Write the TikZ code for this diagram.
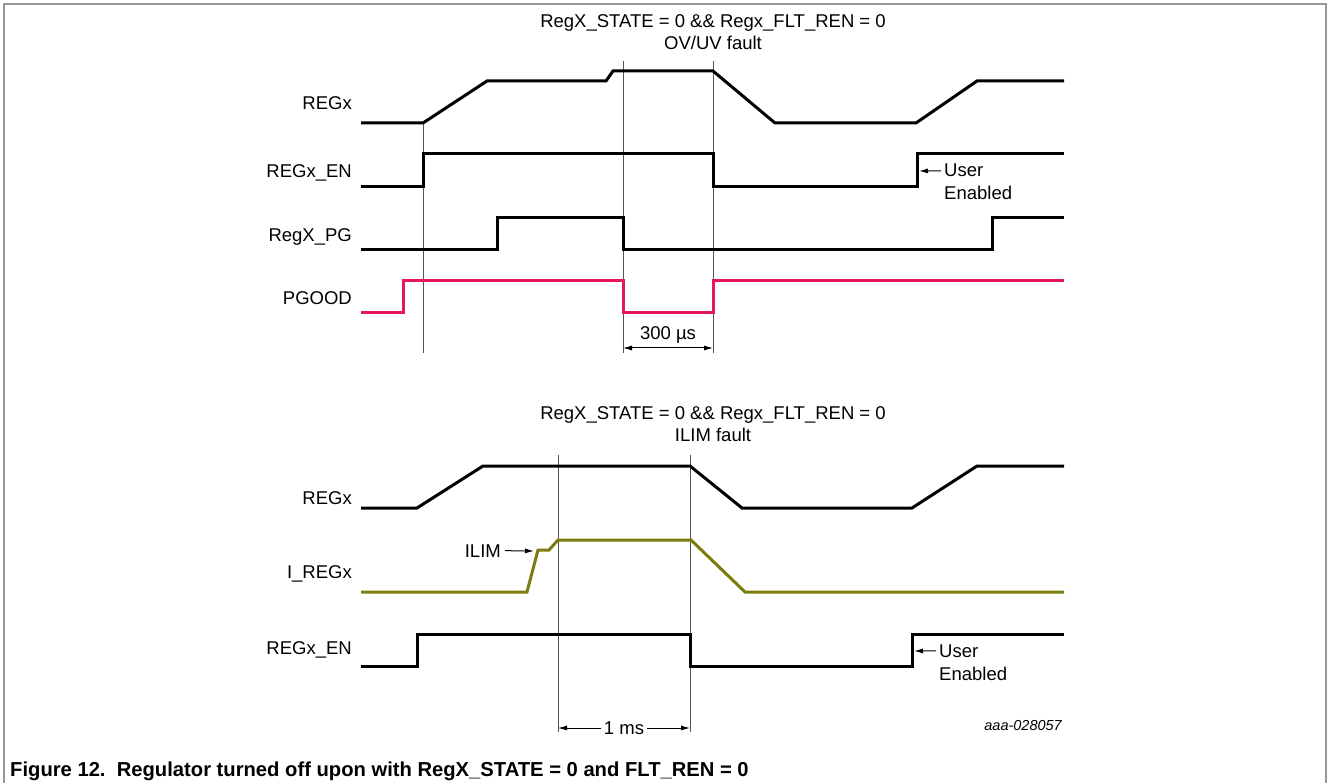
\documentclass[tikz,border=0pt]{standalone}
\usepackage{xcolor}
\usepackage{fontspec}
\setmainfont{Liberation Sans}
\usepackage{tikz}
\usetikzlibrary{arrows.meta,positioning,calc}
\definecolor{pgoodred}{RGB}{232, 22, 92}
\definecolor{ilimolive}{RGB}{124, 124, 14}
\definecolor{framegray}{RGB}{150, 150, 150}
\definecolor{guidegray}{RGB}{85, 85, 85}
\tikzset{
  sig/.style={line width=3pt,line join=miter},
  lbl/.style={anchor=base east,inner sep=0pt,font=\fontsize{18.5}{22}\selectfont},
  note/.style={anchor=base,inner sep=0pt,font=\fontsize{18.5}{22}\selectfont},
  usr/.style={anchor=base west,inner sep=0pt,font=\fontsize{18.5}{22}\selectfont},
  guide/.style={line width=1pt,draw=guidegray},
  arr/.style={-{Latex[length=9pt,width=5pt]},line width=1pt},
  dimarr/.style={{Latex[length=9pt,width=5pt]}-{Latex[length=9pt,width=5pt]},line width=1pt},
}
\begin{document}
\begin{tikzpicture}[x=1pt,y=-1pt]
        \useasboundingbox (0,0) rectangle (1328,783);
        \draw[framegray,line width=1.5pt] (4,783) -- (4,4) -- (1326,4) -- (1326,783);
        % OV/UV fault
        \node[note] (condA) at (713,28) {RegX\_STATE = 0 \&\& Regx\_FLT\_REN = 0};
        \node[note] (faultA) at (713,50) {OV/UV fault};
        \node[lbl] (regA) at (352,110) {REGx};
        \node[lbl] (enA) at (352,178) {REGx\_EN};
        \node[lbl] (pgA) at (352,242) {RegX\_PG};
        \node[lbl] (pgoodA) at (352,305) {PGOOD};
        \draw[guide] (423,123) -- (423,353);
        \draw[guide] (623,61) -- (623,353);
        \draw[guide] (713,61) -- (713,353);
        \draw[sig] (361,123) -- (423,123) -- (487,81) -- (606,81) -- (613,71)
              -- (713,71) -- (775,123) -- (916,123) -- (977,81) -- (1064,81);
        \draw[sig] (361,187) -- (423,187) -- (423,154) -- (713,154) -- (713,187)
              -- (917,187) -- (917,154) -- (1064,154);
        \draw[sig] (361,250) -- (497,250) -- (497,218) -- (623,218) -- (623,250)
              -- (992,250) -- (992,218) -- (1064,218);
        \draw[sig,pgoodred] (361,313) -- (403,313) -- (403,281) -- (623,281)
              -- (623,313) -- (713,313) -- (713,281) -- (1064,281);
        \node[usr] (userA) at (944,177) {User};
        \node[usr] (enabA) at (944,200) {Enabled};
        \coordinate (onA) at (919,171);
        \draw[arr,shorten <=3pt] (userA.west) -- (onA);
        \coordinate (dlyL) at (623,348);
        \coordinate (dlyR) at (713,348);
        \draw[dimarr] (dlyL) -- (dlyR);
        \node[note] (dly) at (668,340) {300 µs};
        % ILIM fault
        \node[note] (condB) at (713,420) {RegX\_STATE = 0 \&\& Regx\_FLT\_REN = 0};
        \node[note] (faultB) at (713,442) {ILIM fault};
        \node[lbl] (regB) at (352,504) {REGx};
        \node[lbl] (iregB) at (352,578) {I\_REGx};
        \node[lbl] (enB) at (352,654) {REGx\_EN};
        \draw[guide] (558,455) -- (558,732);
        \draw[guide] (690,455) -- (690,732);
        \draw[sig] (361,508) -- (417,508) -- (483,466) -- (690,466) -- (742,508)
              -- (912,508) -- (977,466) -- (1064,466);
        \draw[sig,ilimolive] (361,592) -- (527,592) -- (538,550) -- (549,550)
              -- (558,540) -- (691,540) -- (745,592) -- (1064,592);
        \draw[sig] (361,666) -- (417,666) -- (417,634) -- (690,634) -- (690,666)
              -- (912,666) -- (912,634) -- (1064,634);
        \node[lbl] (ilim) at (501,557) {ILIM};
        \coordinate (ilimpt) at (534,551);
        \draw[arr,shorten <=4pt] (ilim.east) -- (ilimpt);
        \node[usr] (userB) at (939,657) {User};
        \node[usr] (enabB) at (939,680) {Enabled};
        \coordinate (onB) at (914,651);
        \draw[arr,shorten <=3pt] (userB.west) -- (onB);
        \coordinate (tmoL) at (558,728);
        \coordinate (tmoR) at (690,728);
        \draw[dimarr] (tmoL) -- node[fill=white,inner sep=3pt,
              font=\fontsize{18.5}{22}\selectfont] (tmo) {1 ms} (tmoR);
        \node[anchor=base east,inner sep=0pt,font=\fontsize{14.5}{17}\selectfont\itshape]
              (docid) at (1062,730) {aaa-028057};
        \node[anchor=base west,inner sep=0pt,font=\fontsize{20.2}{24}\selectfont\bfseries]
              (cap) at (10,776) {Figure 12.\ \ Regulator turned off upon with RegX\_STATE = 0 and FLT\_REN = 0};
      \end{tikzpicture}
\end{document}
